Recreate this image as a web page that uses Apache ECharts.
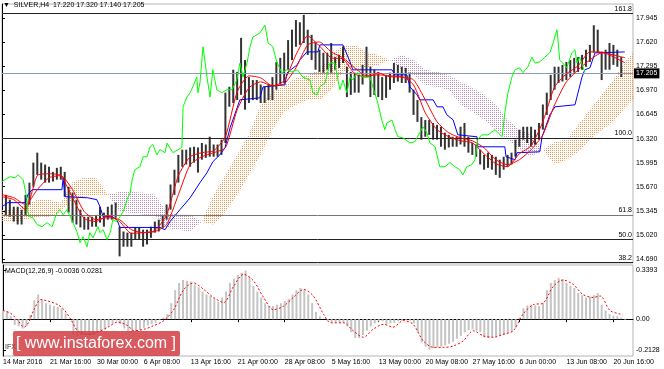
<!DOCTYPE html>
<html><head><meta charset="utf-8">
<script src="https://cdn.jsdelivr.net/npm/echarts@6/dist/echarts.min.js"></script>
<style>html,body{margin:0;padding:0;background:#fff}#c{width:664px;height:369px}</style>
</head><body><div id="c"></div>
<script>
// ---- data (x = bar index in chart units) ----
const xLabels = ["14 Mar 2016","21 Mar 16:00","30 Mar 00:00","6 Apr 08:00","13 Apr 16:00","21 Apr 00:00","28 Apr 08:00","5 May 16:00","13 May 00:00","20 May 08:00","27 May 16:00","6 Jun 00:00","13 Jun 08:00","20 Jun 16:00"];
const priceTicks = [17.945,17.620,17.295,16.970,16.645,16.320,15.995,15.670,15.345,15.020,14.690];
const macdTicks = [0.3393,0,-0.2128];
const fibValues = [18.01,16.327,15.286,14.965,14.646];
const fibNames = ["161.8","100.0","61.8","50.0","38.2"];
const lastPrice = 17.205;
const headerText = "▼  SILVER,H4  17.220 17.320 17.140 17.205";
const macdText = "MACD(12,26,9) -0.0036 0.0281";

const barHigh = [15.725,15.56,15.495,15.40,15.40,15.36,15.56,15.725,15.995,16.13,
15.995,15.97,15.94,15.87,15.925,15.94,15.87,15.67,15.59,15.495,
15.36,15.265,15.265,15.265,15.29,15.40,15.32,15.40,15.43,15.455,
15.13,15.065,15.05,15.05,15.12,15.12,15.09,15.09,15.13,15.20,
15.225,15.29,15.43,15.70,15.90,16.10,16.17,16.17,16.20,16.21,
16.20,16.26,16.24,16.345,16.24,16.24,16.305,16.94,17.02,17.25,
17.22,17.68,17.38,17.15,17.11,17.11,17.05,17.02,17.05,17.15,
17.355,17.41,17.48,17.65,17.79,17.92,17.89,17.99,17.79,17.72,
17.61,17.52,17.48,17.48,17.61,17.42,17.45,17.56,17.29,17.22,
17.21,17.18,17.315,17.56,17.29,17.25,17.22,17.15,17.18,17.21,
17.34,17.315,17.29,17.275,17.21,16.98,16.84,16.61,16.57,16.57,
16.53,16.505,16.48,16.40,16.37,16.345,16.345,16.48,16.53,16.345,
16.26,16.24,16.17,16.10,16.13,16.10,16.075,16.035,16.075,16.10,
16.13,16.305,16.44,16.48,16.48,16.48,16.44,16.53,16.78,16.94,
17.18,17.29,17.29,17.315,17.355,17.38,17.41,17.42,17.45,17.52,
17.585,17.85,17.79,17.48,17.52,17.61,17.585,17.52,17.42];
const barLow = [15.40,15.29,15.265,15.20,15.16,15.16,15.29,15.43,15.67,15.83,
15.765,15.725,15.725,15.74,15.765,15.765,15.535,15.32,15.185,15.16,
15.12,15.09,15.09,15.13,15.13,15.185,15.13,15.225,15.225,15.25,
14.73,14.86,14.86,14.86,14.955,14.955,14.86,14.89,14.98,15.05,
15.065,15.12,15.225,15.36,15.56,15.725,15.94,15.97,15.94,15.995,
15.86,16.035,16.06,16.075,16.075,16.075,16.10,16.26,16.75,16.80,
16.84,16.91,16.71,16.80,16.84,16.84,16.80,16.80,16.84,16.84,
16.98,17.05,17.07,17.25,17.38,17.56,17.585,17.61,17.45,17.38,
17.25,17.22,17.21,17.25,17.21,17.25,17.275,17.34,16.88,16.91,
16.94,16.94,17.05,17.15,16.88,16.91,16.88,16.84,16.87,16.98,
17.07,17.09,17.07,17.07,16.94,16.64,16.545,16.305,16.345,16.37,
16.305,16.305,16.21,16.17,16.20,16.21,16.21,16.24,16.21,16.13,
16.10,16.075,15.97,15.90,15.925,15.90,15.83,15.79,15.90,15.94,
15.97,16.075,16.21,16.305,16.26,16.21,16.24,16.305,16.44,16.64,
16.84,16.98,17.07,17.09,17.11,17.15,17.21,17.22,17.25,17.29,
17.355,17.48,17.48,17.11,17.25,17.25,17.315,17.29,17.15];

const lineU = [0,3,6,9,12,15,18,21,24,27,30,33,36,39,42,45,48,51,54,57,60,63,66,69,72,75,78,81,84,87,90,93,96,99,102,105,108,111,114,117,120,123,126,129,132,135,138,141,144,147,150,153,156,159];
const redFast = [15.535,15.495,15.36,15.82,15.845,15.82,15.52,15.24,15.20,15.28,15.20,15.04,15.05,15.077,15.29,15.82,16.075,16.13,16.155,16.345,16.95,17.167,17.14,17.032,17.10,17.45,17.706,17.57,17.41,17.396,17.194,17.153,17.207,17.153,17.153,17.045,16.668,16.44,16.345,16.29,16.263,16.115,15.98,15.94,16.115,16.223,16.546,17.018,17.194,17.302,17.49,17.49,17.423,17.342];
const redSlow = [15.562,15.522,15.428,15.63,15.792,15.82,15.63,15.333,15.225,15.252,15.225,15.09,15.05,15.064,15.158,15.562,15.967,16.075,16.129,16.196,16.708,17.005,17.086,17.032,17.059,17.275,17.585,17.625,17.49,17.41,17.275,17.167,17.18,17.167,17.153,17.113,16.843,16.546,16.398,16.33,16.29,16.196,16.034,15.967,16.034,16.169,16.371,16.776,17.086,17.248,17.382,17.477,17.45,17.41];

const blueU = [0,1.5,5.9,6.6,7.7,15.3,15.6,16.1,21.9,24.2,25,25.8,28.1,29.3,30.1,40.3,41.6,42.9,45.4,48,50.5,52.3,53.8,55.6,56.9,58.2,60.7,65.8,66.6,72.2,72.7,75.3,76,77.8,80.6,81.1,87,88.8,89.5,99.5,100.3,103.3,104.1,105.9,106.6,110,111,112.5,113.5,115.1,116.3,121.2,121.4,128.3,128.6,130.9,131.4,137.2,137.8,139.8,141.1,146.2,146.7,148,148.7,150,151.3,158.9];
const blueP = [15.40,15.455,15.455,15.562,15.63,15.63,15.79,15.535,15.52,15.495,15.40,15.265,15.265,15.225,15.12,15.12,15.09,15.20,15.36,15.52,15.724,15.859,16.007,16.102,16.196,16.466,16.843,16.87,17.018,17.045,17.207,17.315,17.382,17.49,17.49,17.585,17.585,17.355,17.248,17.248,17.18,17.18,17.018,16.91,16.843,16.843,16.749,16.749,16.641,16.573,16.371,16.344,16.209,16.209,16.075,16.034,16.129,16.142,16.344,16.641,16.749,16.776,16.883,17.153,17.248,17.275,17.477,17.49];

const greenU = [0,0.8,2,3.3,4.1,5.4,6.4,6.6,7.1,7.9,8.9,10.2,11.5,12.8,14,14.8,15.6,16.6,18.1,19.1,19.9,20.7,21.7,22.4,23.2,24.5,25,25.8,26.8,27.6,28.3,29.3,30.1,30.9,31.9,32.7,33.2,33.9,35.2,36,37,37.8,38.5,39.5,40.3,41.6,42.1,43.6,45.9,46.2,47.2,48,48.7,49.7,50,50.5,51.3,52.3,53.1,53.8,54.8,56.1,57.4,58.7,59.9,60.7,61.5,62.5,63.3,64,65.8,67.1,67.9,69.1,70.2,71.4,72.7,74,75.3,76.8,78.6,79.3,80.4,81.1,82.4,83.7,84.9,86.2,87,88,88.8,89.5,90.6,92.1,93.9,94.6,95.9,96.9,97.7,98.2,99.5,100.3,101,102.3,104.1,105.4,106.6,107.4,108.4,109.2,110.5,111.7,113,114.3,115.6,116.8,117.6,118.6,119.9,120.7,121.4,122.4,124,125.8,127.6,128.3,129.1,130.1,130.9,132.1,132.9,134.2,135.2,136,137.2,138.5,139.8,140.6,141.6,141.8,142.3,143.1,144.1,145.4,146.2,146.7,147.4,148.2,148.7];
const greenP = [15.74,15.765,15.805,15.79,15.83,15.765,15.495,15.32,15.265,15.25,15.16,15.13,15.185,15.13,15.32,15.36,15.29,15.36,15.185,15.065,14.915,14.995,14.86,15.05,14.98,15.13,15.05,15.09,14.955,15.05,15.225,15.20,15.265,15.33,15.495,15.59,15.765,15.90,15.94,16.075,16.075,16.21,16.24,16.10,16.17,16.13,16.26,16.13,16.20,16.75,16.88,16.94,17.02,17.15,16.94,17.07,17.56,17.15,16.88,17.25,16.98,16.94,16.98,16.98,17.11,17.34,17.15,17.34,17.56,17.69,17.745,17.85,17.61,17.56,17.34,17.21,17.25,17.22,17.25,17.15,17.11,16.94,16.91,17.02,17.07,17.34,17.34,16.98,17.11,16.94,17.15,17.11,17.21,17.15,17.15,17.02,16.80,16.57,16.44,16.53,16.57,16.44,16.345,16.33,16.26,16.28,16.40,16.48,16.40,16.26,16.21,15.94,15.94,15.995,15.94,15.90,15.83,15.94,15.97,16.035,16.305,16.37,16.37,16.44,16.345,16.67,16.94,17.15,17.25,17.275,17.21,17.29,17.42,17.34,17.355,17.42,17.48,17.61,17.79,17.69,17.38,17.34,17.275,17.48,17.52,17.34,17.42,17.29,17.22];

const cloudU = [0,3,6,9,12,15,18,21,24,27,30,33,36,39,42,45,48,51,54,57,60,63,66,69,72,75,78,81,84,87,90,93,96,99,102,105,108,111,114,117,120,123,126,129,132,135,138,141,144,147,150,153,156,159,161];
const spanA = [15.36,15.36,15.428,15.495,15.495,15.455,15.738,15.792,15.792,15.562,15.333,15.32,15.293,15.293,15.117,15.09,15.064,15.198,15.562,15.832,16.102,16.371,16.776,16.951,17.032,17.14,17.18,17.248,17.45,17.585,17.585,17.49,17.45,17.382,17.248,17.18,17.045,17.018,16.978,16.776,16.681,16.573,16.439,16.304,16.169,16.075,16.169,16.277,16.304,16.506,16.708,16.911,17.113,17.355,17.49];
const spanB = [15.198,15.198,15.225,15.266,15.266,15.333,15.495,15.535,15.562,15.562,15.603,15.603,15.589,15.562,15.333,15.293,15.293,15.198,15.158,15.333,15.562,15.832,16.102,16.439,16.681,16.776,16.843,16.843,16.978,17.221,17.248,17.275,17.315,17.382,17.45,17.382,17.248,17.221,17.18,17.086,17.005,16.911,16.776,16.573,16.439,16.371,16.169,15.967,16.034,16.142,16.304,16.439,16.546,16.735,16.843];

const macdHist = [0.06,0.055,0.02,-0.04,-0.05,-0.065,-0.05,0.03,0.13,0.17,
0.14,0.11,0.10,0.09,0.085,0.075,0.04,0.0,-0.11,-0.115,
-0.11,-0.11,-0.11,-0.105,-0.095,-0.085,-0.07,-0.045,-0.03,-0.01,
-0.035,-0.065,-0.085,-0.09,-0.085,-0.075,-0.06,-0.045,-0.035,-0.025,
-0.005,0.01,0.035,0.11,0.20,0.25,0.27,0.265,0.26,0.24,
0.22,0.19,0.17,0.16,0.145,0.12,0.15,0.19,0.25,0.28,
0.305,0.32,0.335,0.29,0.23,0.19,0.15,0.11,0.09,0.09,
0.10,0.11,0.125,0.14,0.17,0.20,0.215,0.20,0.17,0.11,
0.05,0.02,0.0,-0.01,-0.02,-0.02,-0.02,-0.025,-0.05,-0.09,
-0.13,-0.13,-0.11,-0.08,-0.05,-0.03,-0.015,-0.015,-0.035,-0.03,
-0.025,-0.015,-0.01,-0.005,-0.01,-0.03,-0.09,-0.16,-0.19,-0.21,
-0.20,-0.195,-0.19,-0.18,-0.17,-0.155,-0.135,-0.115,-0.09,-0.075,
-0.07,-0.08,-0.09,-0.125,-0.13,-0.125,-0.12,-0.115,-0.11,-0.095,
-0.085,-0.06,0.01,0.075,0.095,0.10,0.095,0.09,0.11,0.20,
0.25,0.27,0.285,0.275,0.25,0.23,0.215,0.18,0.165,0.15,
0.155,0.165,0.18,0.10,0.06,0.035,0.025,0.02,0.01,-0.004];
const sigU = [0,2,3.8,5.4,6.6,7.9,9.7,11.5,14,15.6,17.3,19.1,21.7,24.2,26.8,29.3,31.9,33.4,36,38.5,41.1,43.6,46.2,48.7,51.3,53.8,56.4,58.9,61.5,64,66.6,69.1,71.7,74.2,76.8,79.3,81.9,83.7,87,89.5,92.1,94.6,97.2,99.7,102.3,104.8,107.4,110,112.5,115.1,117.6,120.2,122.7,125.3,127.8,130.4,132.9,135.5,138,140.6,143.1,145.7,148.2,150.8,152.6,155.1,157.7,158.4];
const sigV = [0.06,0.04,-0.01,-0.055,-0.02,0.065,0.135,0.125,0.10,0.065,0,-0.08,-0.105,-0.09,-0.055,-0.02,-0.045,-0.08,-0.07,-0.045,-0.01,0.065,0.205,0.25,0.205,0.15,0.115,0.225,0.31,0.265,0.15,0.065,0.09,0.15,0.205,0.16,0.035,-0.025,-0.025,-0.08,-0.125,-0.07,-0.035,-0.055,-0.01,-0.035,-0.15,-0.195,-0.195,-0.185,-0.15,-0.08,-0.115,-0.125,-0.105,-0.08,0.035,0.10,0.11,0.225,0.27,0.24,0.17,0.15,0.16,0.06,0.035,0.028];

// ---- rendering ----
const FONT = "'Liberation Sans', Arial, sans-serif";
function pattern(color){
  const c = document.createElement('canvas'); c.width = 2; c.height = 2;
  const g = c.getContext('2d'); g.fillStyle = color;
  g.fillRect(0,0,1,1);
  return {image: c, repeat: 'repeat'};
}
const orangeFill = pattern('#f0964c');
const thistleFill = pattern('#b98fb9');
const zip = (a,b) => a.map((v,i)=>[v,b[i]]);

const cloudData = [];
for (let i = 0; i < cloudU.length - 1; i++) {
  cloudData.push([cloudU[i], spanA[i], spanB[i], cloudU[i+1], spanA[i+1], spanB[i+1]]);
}
const barData = barHigh.map((h,i)=>[i, barLow[i], h]);

const fibLines = fibValues.map((v,i)=>({
  yAxis: v,
  lineStyle: {color: i===2 ? '#777' : '#222', width: 1, type: 'solid'},
  label: {show: true, position: 'insideEndTop', formatter: fibNames[i], color: '#000', fontSize: 7, fontFamily: FONT, distance: 1}
}));

const chart = echarts.init(document.getElementById('c'), null, {renderer: 'canvas'});
chart.setOption({
  animation: false,
  backgroundColor: '#fff',
  textStyle: {fontFamily: FONT},
  title: [
    {text: headerText, left: 3, top: 2, padding: 0, textStyle: {fontSize: 7, fontWeight: 'normal', color: '#000', fontFamily: FONT}},
    {text: macdText, left: 5, top: 268, padding: 0, textStyle: {fontSize: 7, fontWeight: 'normal', color: '#000', fontFamily: FONT}}
  ],
  grid: [
    {left: 2, top: 4, width: 631, height: 259, show: true, borderColor: '#b4b4b4', borderWidth: 1},
    {left: 2, top: 265, width: 631, height: 91, show: true, borderColor: '#b4b4b4', borderWidth: 1}
  ],
  xAxis: [
    {type: 'value', gridIndex: 0, min: 0, max: 161, show: false, splitLine: {show: false}},
    {type: 'value', gridIndex: 1, min: 0, max: 161, interval: 12,
     axisLine: {show: true, lineStyle: {color: '#000'}},
     axisTick: {show: true, length: 3, lineStyle: {color: '#000'}},
     splitLine: {show: false},
     axisLabel: {show: true, align: 'left', margin: 3, fontSize: 7, color: '#000', fontFamily: FONT,
       showMaxLabel: false,
       formatter: v => (v % 12 === 0 && v/12 < xLabels.length) ? xLabels[v/12] : ''}}
  ],
  yAxis: [
    {type: 'value', gridIndex: 0, position: 'right', min: 14.64, max: 18.137, scale: true,
     axisLine: {show: true, lineStyle: {color: '#000'}},
     axisTick: {show: true, length: 3, customValues: priceTicks, lineStyle: {color: '#000'}},
     splitLine: {show: false},
     axisLabel: {show: true, customValues: priceTicks, margin: 3, fontSize: 7, color: '#000', fontFamily: FONT,
       formatter: v => v.toFixed(3)}},
    {type: 'value', gridIndex: 1, position: 'right', min: -0.2542, max: 0.3738,
     axisLine: {show: true, lineStyle: {color: '#000'}},
     axisTick: {show: true, length: 3, customValues: macdTicks, lineStyle: {color: '#000'}},
     splitLine: {show: false},
     axisLabel: {show: true, customValues: macdTicks, margin: 3, fontSize: 7, color: '#000', fontFamily: FONT,
       formatter: v => Math.abs(v) < 1e-9 ? '0.00' : v.toFixed(4)}}
  ],
  series: [
    {type: 'custom', name: 'cloud', xAxisIndex: 0, yAxisIndex: 0, clip: true, silent: true, z: 1,
     data: cloudData, encode: {x: [0,3], y: [1,2,4,5]},
     renderItem: (params, api) => {
       const u0 = api.value(0), a0 = api.value(1), b0 = api.value(2);
       const u1 = api.value(3), a1 = api.value(4), b1 = api.value(5);
       const pts = [api.coord([u0,a0]), api.coord([u1,a1]), api.coord([u1,b1]), api.coord([u0,b0])];
       const bull = (a0 + a1) >= (b0 + b1);
       return {type: 'polygon', shape: {points: pts}, style: {fill: bull ? orangeFill : thistleFill, stroke: null}};
     }},
    {type: 'line', name: 'price', xAxisIndex: 0, yAxisIndex: 0, data: [], silent: true, z: 2,
     markLine: {silent: true, symbol: ['none','none'], animation: false,
       data: fibLines.concat([{
         yAxis: lastPrice,
         lineStyle: {color: '#8a9bb4', width: 1, type: 'solid'},
         label: {show: true, position: 'end', formatter: lastPrice.toFixed(3), color: '#fff', backgroundColor: '#000',
                 padding: [2,2,1,2], fontSize: 7, fontFamily: FONT, distance: 1}
       }])}},
    {type: 'custom', name: 'bars', xAxisIndex: 0, yAxisIndex: 0, clip: true, silent: true, z: 3,
     data: barData, encode: {x: 0, y: [1,2]},
     renderItem: (params, api) => {
       const u = api.value(0);
       const top = api.coord([u, api.value(2)]), bot = api.coord([u, api.value(1)]);
       return {type: 'rect', shape: {x: top[0]-1, y: top[1], width: 2, height: Math.max(1, bot[1]-top[1])},
               style: {fill: '#333'}};
     }},
    {type: 'line', name: 'kijun', data: zip(blueU, blueP), showSymbol: false, silent: true, z: 4,
     lineStyle: {color: '#0000ff', width: 1}},
    {type: 'line', name: 'maSlow', data: zip(lineU, redSlow), showSymbol: false, silent: true, z: 5, smooth: 0.2,
     lineStyle: {color: '#ff0000', width: 1}},
    {type: 'line', name: 'maFast', data: zip(lineU, redFast), showSymbol: false, silent: true, z: 5, smooth: 0.2,
     lineStyle: {color: '#ff0000', width: 1}},
    {type: 'line', name: 'chikou', data: zip(greenU, greenP), showSymbol: false, silent: true, z: 6,
     lineStyle: {color: '#00ff00', width: 1}},
    {type: 'bar', name: 'macd', xAxisIndex: 1, yAxisIndex: 1, data: macdHist.map((v,i)=>[i,v]),
     barWidth: 2, silent: true, itemStyle: {color: '#c4c4c4'}},
    {type: 'line', name: 'signal', xAxisIndex: 1, yAxisIndex: 1, data: zip(sigU, sigV), showSymbol: false, silent: true,
     smooth: 0.3, lineStyle: {color: '#ff0000', width: 1, type: [2,2]}}
  ],
  graphic: [
    {type: 'text', left: 5, top: 344, z: 50, style: {text: 'IFX', fill: '#333', font: '7px ' + FONT}},
    {type: 'rect', shape: {x: 13, y: 331, width: 167, height: 25, r: 2}, z: 60,
     style: {fill: 'rgba(208,52,58,0.82)'}},
    {type: 'text', x: 96, y: 343.5, z: 61,
     style: {text: '[ www.instaforex.com ]', fill: '#fff', font: '16px ' + FONT, align: 'center', verticalAlign: 'middle'}}
  ]
});
</script></body></html>
